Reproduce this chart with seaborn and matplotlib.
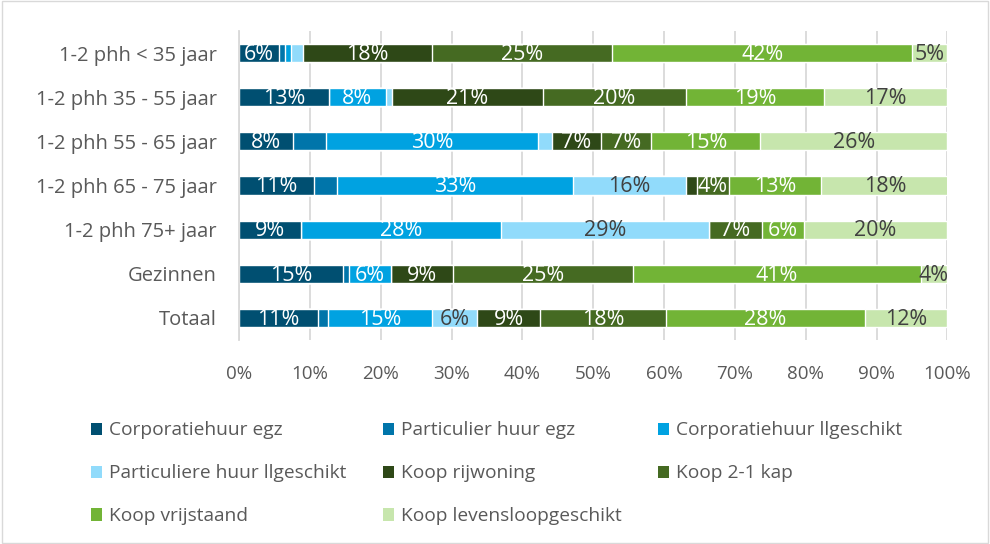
import matplotlib
matplotlib.use("Agg")
import matplotlib.pyplot as plt
from matplotlib.patches import Patch, Rectangle
import numpy as np
import pandas as pd
import seaborn as sns

# Data (share in % per household group)
groups = [
    "1-2 phh < 35 jaar",
    "1-2 phh 35 - 55 jaar",
    "1-2 phh 55 - 65 jaar",
    "1-2 phh 65 - 75 jaar",
    "1-2 phh 75+ jaar",
    "Gezinnen",
    "Totaal",
]
series = [
    "Corporatiehuur egz",
    "Particulier huur egz",
    "Corporatiehuur llgeschikt",
    "Particuliere huur llgeschikt",
    "Koop rijwoning",
    "Koop 2-1 kap",
    "Koop vrijstaand",
    "Koop levensloopgeschikt",
]
corp_egz = [5.7, 12.7, 7.6, 10.6, 8.8, 14.7, 11.2]
part_egz = [0.8, 0.0, 4.7, 3.2, 0.0, 0.8, 1.4]
corp_llg = [0.85, 8.05, 29.9, 33.4, 28.2, 5.9, 14.6]
part_llg = [1.65, 0.9, 2.0, 15.9, 29.4, 0.0, 6.4]
koop_rij = [18.3, 21.2, 6.9, 1.6, 0.0, 8.8, 8.9]
koop_21 = [25.4, 20.3, 7.1, 4.4, 7.4, 25.4, 17.8]
koop_vrij = [42.3, 19.4, 15.4, 13.1, 5.9, 40.7, 28.0]
koop_lev = [5.0, 17.4, 26.4, 18.0, 20.3, 3.6, 11.7]

colors = ["#004F71", "#0075AA", "#00A2E1", "#91DBFB",
          "#2E4817", "#456A22", "#72B436", "#C7E6AD"]
label_colors = ["white", "white", "white", "#404040",
                "white", "white", "white", "#404040"]

values = pd.DataFrame(
    np.column_stack([corp_egz, part_egz, corp_llg, part_llg,
                     koop_rij, koop_21, koop_vrij, koop_lev]),
    index=groups, columns=series)
cum = values.cumsum(axis=1)

sns.set_theme(style="white")
plt.rcParams["font.family"] = ["Open Sans", "DejaVu Sans"]

fig = plt.figure(figsize=(9.9, 5.44), dpi=100)
ax = fig.add_axes([0.2414, 0.375, 0.7156, 0.568])

# stacked bars: draw cumulative totals from the last series to the first
for i in range(len(series) - 1, -1, -1):
    df = pd.DataFrame({"group": groups, "end": cum.iloc[:, i].values})
    sns.barplot(data=df, x="end", y="group", color=colors[i],
                saturation=1, width=0.41, ax=ax, zorder=2)

# data labels (hidden for the tiny private-rent segment, as in the source)
for i, s in enumerate(series):
    if s == "Particulier huur egz":
        continue
    for j, g in enumerate(groups):
        v = values.loc[g, s]
        if v < 3.5:
            continue
        ax.text(cum.loc[g, s] - v / 2, j + 0.03, f"{v:.0f}%", ha="center",
                va="center", fontsize=15.5, color=label_colors[i], zorder=3)

ax.set_xlim(0, 100)
ax.set_ylim(6.5, -0.5)
ax.set_xticks(range(0, 101, 10))
ax.set_xticklabels([f"{t}%" for t in range(0, 101, 10)])
ax.xaxis.grid(True, color="#D9D9D9", linewidth=1.3, zorder=0)
ax.set_axisbelow(True)
ax.set_xlabel("")
ax.set_ylabel("")
for side in ["top", "right", "bottom"]:
    ax.spines[side].set_visible(False)
ax.spines["left"].set_color("#D9D9D9")
ax.spines["left"].set_linewidth(1.3)
ax.tick_params(axis="x", length=0, labelsize=13.5, labelcolor="#595959", pad=18)
ax.tick_params(axis="y", length=0, labelsize=14.5, labelcolor="#595959", pad=16)

handles = [Patch(facecolor=c, edgecolor="none") for c in colors]
order = [0, 3, 6, 1, 4, 7, 2, 5]
fig.legend([handles[k] for k in order], [series[k] for k in order],
           loc="upper left", bbox_to_anchor=(0.074, 0.257), ncol=3,
           frameon=False, fontsize=13.8, handlelength=0.6, handleheight=0.6,
           handletextpad=0.35, columnspacing=1.9, labelspacing=1.3,
           labelcolor="#595959")

fig.patches.append(Rectangle((0.002, 0.002), 0.996, 0.996, transform=fig.transFigure,
                             fill=False, edgecolor="#D9D9D9", linewidth=1))

fig.savefig("out.png", dpi=100)
